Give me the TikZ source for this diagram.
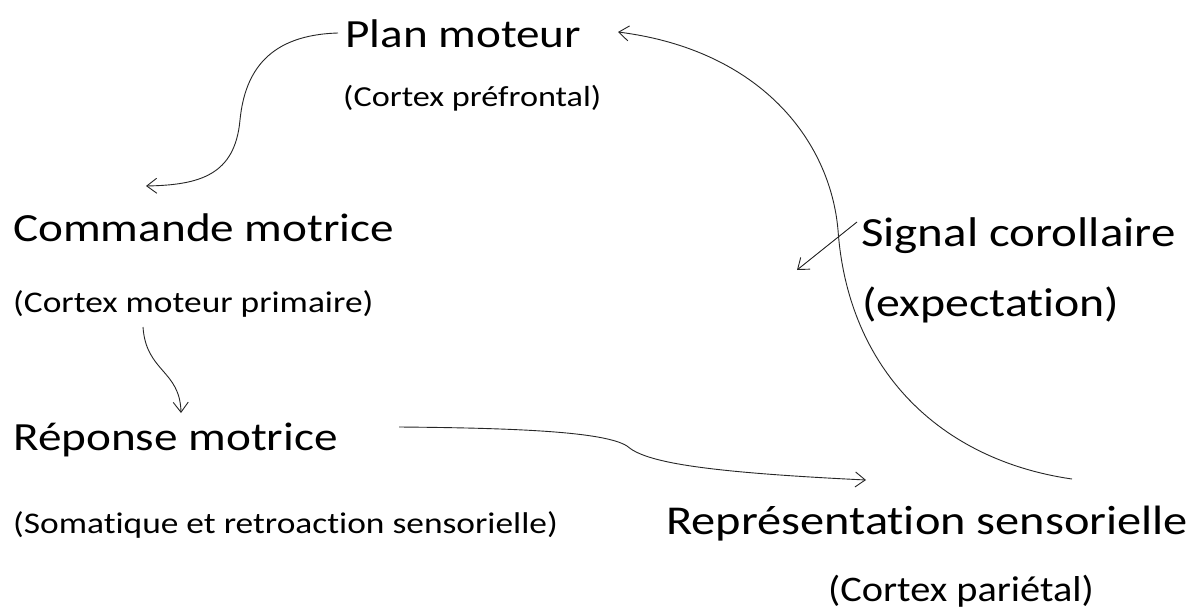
\documentclass[tikz,border=0pt]{standalone}
\usepackage{fontspec}
\usetikzlibrary{arrows.meta}
\newfontfamily\cali[FakeStretch=1.18,Ligatures=NoCommon]{Carlito}
\newfontfamily\calp[FakeStretch=1.12,Ligatures=NoCommon]{Carlito}
\begin{document}
\begin{tikzpicture}[x=1pt,y=-1pt,
  lbl/.style={anchor=base west, inner sep=0pt, text=black},
  big/.style={lbl, font=\cali\fontsize{40}{48}\selectfont},
  small/.style={lbl, font=\cali\fontsize{30}{36}\selectfont},
  conn/.style={line width=0.9pt, draw=black!85, -{Straight Barb[length=10pt,width=15pt,line width=0.9pt]}}]
\useasboundingbox[fill=white] (0,0) rectangle (1199,610);

\node[big] (plan) at (345,48) {Plan moteur};
\node[small, font=\cali\fontsize{29}{35}\selectfont] (pref) at (343,106) {(Cortex préfrontal)};
\node[big] (cmd) at (13,241) {Commande motrice};
\node[small] (cmp) at (13,312) {(Cortex moteur primaire)};
\node[big] (rep) at (13,450) {Réponse motrice};
\node[small] (soma) at (13,533) {(Somatique et retroaction sensorielle)};
\node[big, font=\cali\fontsize{41.5}{48}\selectfont] (sig) at (861,246) {Signal corollaire};
\node[big, font=\cali\fontsize{40.5}{48}\selectfont] (expc) at (862,316) {(expectation)};
\node[big, font=\cali\fontsize{41}{48}\selectfont] (rs) at (666,534) {Représentation sensorielle};
\node[lbl, font=\calp\fontsize{36}{42}\selectfont] (par) at (828,601) {(Cortex pariétal)};

\coordinate (a0) at (338,33);
\coordinate (a1) at (146,186);
\coordinate (b0) at (1072,479);
\coordinate (bm) at (838,230);
\coordinate (b1) at (618,32);
\coordinate (c0) at (143,327);
\coordinate (c1) at (181,413);
\coordinate (d0) at (399,427);
\coordinate (dm) at (627,446);
\coordinate (d1) at (866,480);
\coordinate (e0) at (857,222);
\coordinate (e1) at (797,270);

\draw[conn] (a0) .. controls (270,35) and (245,70) .. (240,120) .. controls (235,175) and (200,185) .. (a1);
\draw[conn] (b0) .. controls (940,460) and (848,370) .. (bm) .. controls (830,140) and (760,50) .. (b1);
\draw[conn] (c0) .. controls (146,372) and (180,370) .. (c1);
\draw[conn] (d0) .. controls (520,428) and (605,432) .. (dm) .. controls (645,462) and (700,472) .. (d1);
\draw[conn] (e0) -- (e1);
\end{tikzpicture}
\end{document}
